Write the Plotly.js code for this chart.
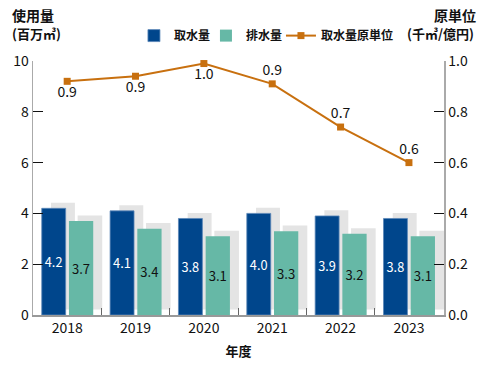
<!DOCTYPE html>
<html>
<head>
<meta charset="utf-8">
<script src="https://cdn.plot.ly/plotly-3.0.1.min.js"></script>
<style>html,body{margin:0;padding:0;background:#fff;}#chart{width:482px;height:370px;}</style>
</head>
<body>
<div id="chart"></div>
<script>
const years = ['2018', '2019', '2020', '2021', '2022', '2023'];
const intake = [4.2, 4.1, 3.8, 4.0, 3.9, 3.8];
const discharge = [3.7, 3.4, 3.1, 3.3, 3.2, 3.1];
const intensity = [0.92, 0.94, 0.99, 0.91, 0.74, 0.60];
const intensityLabelPos = ['bottom center', 'bottom center', 'bottom center', 'top center', 'top center', 'top center'];

const FONT = '"Noto Sans CJK JP", "Noto Sans", sans-serif';
const BLUE = '#00468c';
const TEAL = '#66b8a6';
const SHADOW = '#e4e4e4';
const ORANGE = '#c8700f';
const SHADOW_LIFT = 0.22;

const traces = [
  {type: 'bar', x: years, y: intake, base: SHADOW_LIFT, offset: -0.237, width: 0.35,
   marker: {color: SHADOW}, showlegend: false, hoverinfo: 'skip'},
  {type: 'bar', x: years, y: discharge, base: SHADOW_LIFT, offset: 0.153, width: 0.36,
   marker: {color: SHADOW}, showlegend: false, hoverinfo: 'skip'},
  {type: 'bar', name: '取水量', legend: 'legend', x: years, y: intake, offset: -0.372, width: 0.35,
   marker: {color: BLUE, line: {color: '#5a86b8', width: 0.8}},
   text: intake.map(v => v.toFixed(1)), textposition: 'inside', insidetextanchor: 'middle',
   textangle: 0, textfont: {color: '#ffffff', size: 14, family: FONT}, hoverinfo: 'skip'},
  {type: 'bar', name: '排水量', legend: 'legend2', x: years, y: discharge, offset: 0.026, width: 0.355,
   marker: {color: TEAL},
   text: discharge.map(v => v.toFixed(1)), textposition: 'inside', insidetextanchor: 'middle',
   textangle: 0, textfont: {color: '#111111', size: 14, family: FONT}, hoverinfo: 'skip'},
  {type: 'scatter', mode: 'lines+markers+text', name: '取水量原単位', legend: 'legend3', x: years, y: intensity, yaxis: 'y2',
   line: {color: ORANGE, width: 2}, marker: {color: ORANGE, symbol: 'square', size: 7},
   text: intensity.map(v => v.toFixed(1)), textposition: intensityLabelPos,
   textfont: {color: '#111111', size: 14, family: FONT}, hoverinfo: 'skip', cliponaxis: false}
];

const legendBase = {orientation: 'h', xanchor: 'left', y: 1.10, yanchor: 'middle',
  font: {size: 12, family: FONT, color: '#111', weight: 'bold'}, itemwidth: 30, bgcolor: 'rgba(0,0,0,0)'};

const layout = {
  width: 482, height: 370,
  margin: {l: 33, r: 38, t: 61, b: 55},
  paper_bgcolor: '#ffffff', plot_bgcolor: '#ffffff',
  font: {family: FONT, size: 14, color: '#111111'},
  barmode: 'overlay',
  showlegend: true,
  legend: Object.assign({}, legendBase, {x: 0.2456}),
  legend2: Object.assign({}, legendBase, {x: 0.4208}),
  legend3: Object.assign({}, legendBase, {x: 0.6033}),
  xaxis: {type: 'category', showline: true, linecolor: '#999999', linewidth: 1.5,
          ticks: 'inside', tickson: 'boundaries', ticklen: 7, tickcolor: '#666666',
          showgrid: false, zeroline: false, tickfont: {size: 14},
          title: {text: '<b>年度</b>', font: {size: 13}, standoff: 10}},
  yaxis: {range: [0, 10], dtick: 2, showline: true, linecolor: '#aaaaaa', linewidth: 1.5,
          ticks: 'inside', ticklen: 10, tickcolor: '#111111', showgrid: false, zeroline: false,
          tickfont: {size: 14}},
  yaxis2: {range: [0, 1], dtick: 0.2, overlaying: 'y', side: 'right', showline: true,
           linecolor: '#aaaaaa', linewidth: 1.5, ticks: 'inside', ticklen: 10, tickcolor: '#111111',
           showgrid: false, zeroline: false, tickformat: '.1f', tickfont: {size: 14}},
  annotations: [
    {text: '<b>使用量</b>', xref: 'paper', yref: 'paper', x: 0, y: 1.183, xanchor: 'left', yanchor: 'middle',
     showarrow: false, font: {size: 14}, align: 'left', xshift: -23},
    {text: '<b>(百万㎥)</b>', xref: 'paper', yref: 'paper', x: 0, y: 1.11, xanchor: 'left', yanchor: 'middle',
     showarrow: false, font: {size: 13}, align: 'left', xshift: -23},
    {text: '<b>原単位</b>', xref: 'paper', yref: 'paper', x: 1, y: 1.183, xanchor: 'right', yanchor: 'middle',
     showarrow: false, font: {size: 14}, align: 'right', xshift: 34},
    {text: '<b>(千㎥/億円)</b>', xref: 'paper', yref: 'paper', x: 1, y: 1.11, xanchor: 'right', yanchor: 'middle',
     showarrow: false, font: {size: 13}, align: 'right', xshift: 32}
  ]
};

Plotly.newPlot('chart', traces, layout, {displayModeBar: false, staticPlot: true});
</script>
</body>
</html>
